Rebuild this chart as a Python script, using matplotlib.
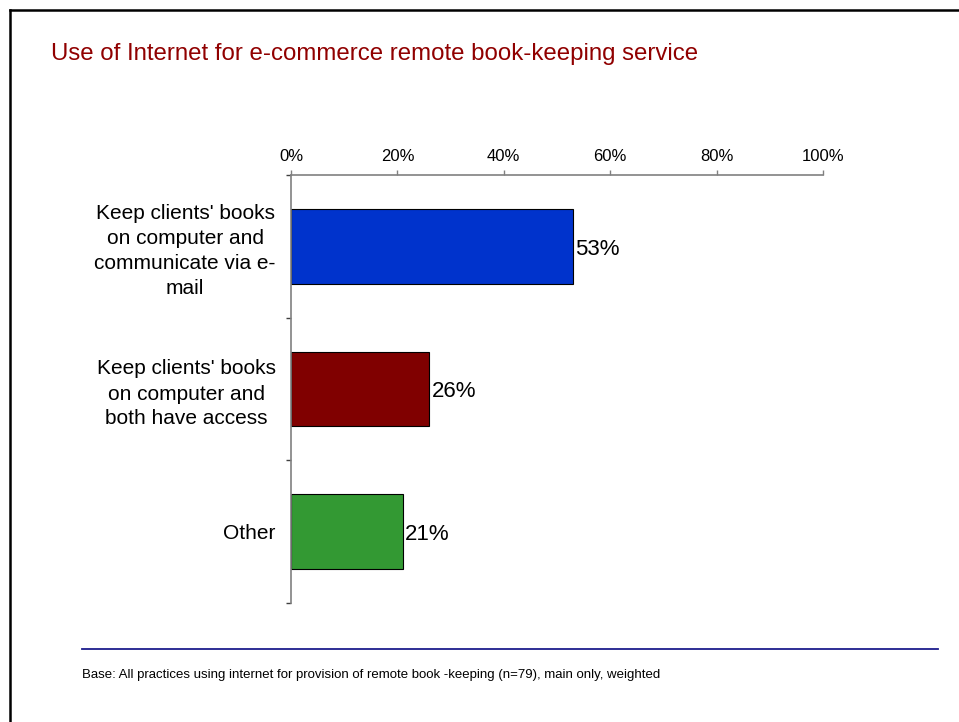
import matplotlib.pyplot as plt
from matplotlib.lines import Line2D

plt.rcParams['font.family'] = ['Liberation Sans', 'DejaVu Sans']

# Data
categories = [
    "Keep clients' books\non computer and\ncommunicate via e-\nmail",
    "Keep clients' books\non computer and\nboth have access",
    "Other",
]
shares = [53, 26, 21]
bar_colors = ['#0033CC', '#800000', '#339933']
x_ticks = [0, 20, 40, 60, 80, 100]

title = 'Use of Internet for e-commerce remote book-keeping service'
footnote = ('Base: All practices using internet for provision of remote book -keeping '
            '(n=79), main only, weighted')

fig = plt.figure(figsize=(9.59, 7.22), dpi=100)
ax = fig.add_axes([291 / 959, 1 - 603 / 722, 532 / 959, 428 / 722])

pos = list(range(len(categories)))
ax.barh(pos, shares, height=0.525, color=bar_colors, edgecolor='black', linewidth=0.8)

for p, v in zip(pos, shares):
    ax.text(v + 0.4, p + 0.02, f'{v}%', va='center', ha='left', fontsize=16)

ax.set_xlim(0, 100)
ax.set_ylim(len(categories) - 0.5, -0.5)

ax.xaxis.tick_top()
ax.set_xticks(x_ticks)
ax.set_xticklabels([f'{t}%' for t in x_ticks], fontsize=12)
ax.tick_params(axis='x', direction='out', length=3.8, width=1, color='#808080', pad=4)

# category labels sit between the boundary ticks
ax.set_yticks(pos)
ax.set_yticklabels(categories, fontsize=15, multialignment='center', linespacing=1.4)
ax.tick_params(axis='y', which='major', length=0, pad=11)
ax.set_yticks([p - 0.5 for p in pos] + [len(pos) - 0.5], minor=True)
ax.tick_params(axis='y', which='minor', direction='out', length=3.8, width=1, color='#404040')

for side in ['bottom', 'right']:
    ax.spines[side].set_visible(False)
for side in ['top', 'left']:
    ax.spines[side].set_color('#808080')
    ax.spines[side].set_linewidth(1.2)

fig.text(51 / 959, 1 - 54 / 722, title, color='#900000', fontsize=17.3, va='center', ha='left')
fig.text(82 / 959, 1 - 675 / 722, footnote, fontsize=9.5, va='center', ha='left')

# page frame and footer rule
fig.add_artist(Line2D([10 / 959, 10 / 959], [0, 1 - 10 / 722], color='black', lw=1.8,
                      transform=fig.transFigure))
fig.add_artist(Line2D([10 / 959, 1], [1 - 10 / 722, 1 - 10 / 722], color='black', lw=1.8,
                      transform=fig.transFigure))
fig.add_artist(Line2D([82 / 959, 938 / 959], [1 - 649 / 722, 1 - 649 / 722], color='#1C1C8C',
                      lw=1.3, transform=fig.transFigure))

fig.savefig('out.png', dpi=100)
